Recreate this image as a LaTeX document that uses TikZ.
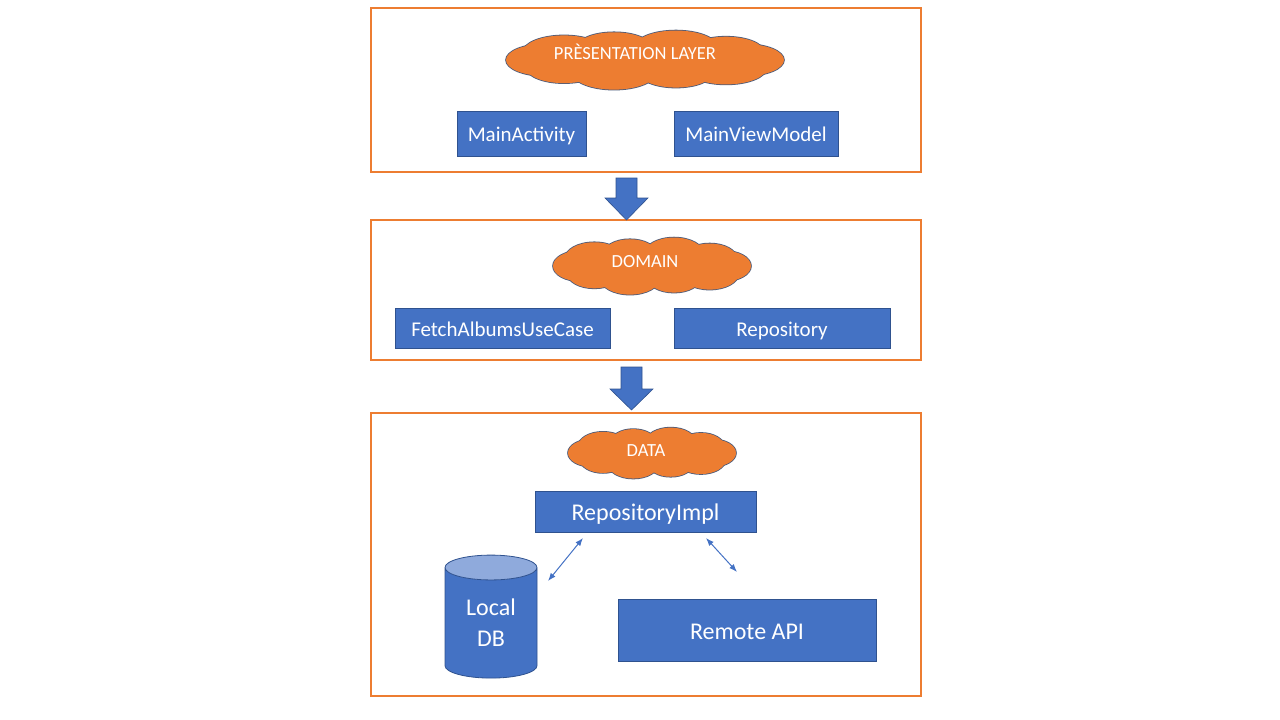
\documentclass[tikz,border=0pt]{standalone}
\usepackage{fontspec}
\setmainfont{Carlito}
\usetikzlibrary{shapes.geometric,arrows.meta}
\definecolor{korange}{HTML}{ED7D31}
\definecolor{kblue}{HTML}{4472C4}
\definecolor{kdark}{HTML}{2F528F}
\definecolor{klight}{HTML}{8FAADC}
\definecolor{kcloudline}{HTML}{4A5A7A}
\tikzset{
  layerbox/.style={draw=korange,line width=2.5pt},
  compbox/.style={draw=kdark,fill=kblue,line width=0.8pt,text=white,font=\fontsize{21}{24}\selectfont,inner sep=0pt,text height=16pt,text depth=0pt},
  bigbox/.style={compbox,font=\fontsize{24}{27}\selectfont,text height=18pt},
  cloudtext/.style={text=white,font=\fontsize{18.5}{20}\selectfont,inner sep=0pt},
  puffline/.style={draw=kcloudline,line width=1.6pt},
  pufffill/.style={fill=korange},
  blockarrow/.style={fill=kblue,draw=kdark,line width=0.6pt},
  link/.style={draw=kblue,line width=1pt,{Latex[length=8pt,width=6pt]}-{Latex[length=8pt,width=6pt]}}
}
% cloud drawn as union of puffs: #1 cx, #2 cy, #3 half width, #4 half height
\newcommand{\puffcloud}[4]{%
  \begin{scope}[shift={(#1,#2)}]
    \pgfmathsetmacro{\prx}{0.28*#3}
    \pgfmathsetmacro{\pry}{0.55*#4}
    \pgfmathsetmacro{\crx}{#3-\prx}
    \pgfmathsetmacro{\cry}{#4-\pry}
    \foreach \a/\s in {0/1,36/1.05,72/0.95,108/1.08,144/0.97,180/1,216/1.06,252/0.96,288/1.07,324/0.98}
      \path[puffline] ({\crx*cos(\a)},{\cry*sin(\a)}) ellipse [x radius=\s*\prx, y radius=\s*\pry];
    \foreach \a/\s in {0/1,36/1.05,72/0.95,108/1.08,144/0.97,180/1,216/1.06,252/0.96,288/1.07,324/0.98}
      \path[pufffill] ({\crx*cos(\a)},{\cry*sin(\a)}) ellipse [x radius=\s*\prx, y radius=\s*\pry];
    \path[pufffill] (0,0) ellipse [x radius=\crx+0.5*\prx, y radius=\cry+0.5*\pry];
  \end{scope}}
\begin{document}
\begin{tikzpicture}[x=1pt,y=-1pt]
\useasboundingbox (0,0) rectangle (1280,720);
% layer frames
\draw[layerbox] (371,8) rectangle (921,172);
\draw[layerbox] (371,220) rectangle (921,360);
\draw[layerbox] (371,413) rectangle (921,696);
% clouds
\puffcloud{645}{60}{139}{29}
\node[cloudtext] (pres) at (635,52) {PRÈSENTATION LAYER};
\puffcloud{652}{266}{99}{28}
\node[cloudtext] (dom) at (645,262) {DOMAIN};
\puffcloud{652}{453}{84}{25}
\node[cloudtext] (dat) at (646,451) {DATA};
% presentation components
\node[compbox,minimum width=129pt,minimum height=45pt] (ma) at (521.5,133.5) {MainActivity};
\node[compbox,minimum width=164pt,minimum height=45pt] (mvm) at (756,133.5) {MainViewModel};
% domain components
\node[compbox,minimum width=215pt,minimum height=40pt] (fetch) at (502.5,328) {FetchAlbumsUseCase};
\node[compbox,minimum width=216pt,minimum height=40pt] (repo) at (782,328) {Repository};
% data components
\node[bigbox,minimum width=221pt,minimum height=41pt] (rimpl) at (645.5,511.5) {RepositoryImpl};
\node[bigbox,minimum width=258pt,minimum height=62pt] (remote) at (747,630) {Remote API};
\node[cylinder,shape border rotate=90,aspect=0.5,draw=kdark,line width=0.8pt,
      cylinder uses custom fill,cylinder body fill=kblue,cylinder end fill=klight,
      minimum width=92pt,minimum height=123pt,text=white,align=center,
      font=\fontsize{24}{31}\selectfont,inner sep=0pt] (db) at (491,623) {Local\\DB};
% block arrows between layers
\draw[blockarrow] (616,178) -- (637,178) -- (637,198) -- (648,198) -- (626.5,220) -- (605,198) -- (616,198) -- cycle;
\draw[blockarrow] (621,367) -- (642,367) -- (642,389) -- (653,389) -- (631.5,410) -- (610,389) -- (621,389) -- cycle;
% links
\coordinate (l1a) at (583,538);
\coordinate (l1b) at (548,581);
\coordinate (l2a) at (706,538);
\coordinate (l2b) at (737,572);
\draw[link] (l1a) -- (l1b);
\draw[link] (l2a) -- (l2b);
\end{tikzpicture}
\end{document}
